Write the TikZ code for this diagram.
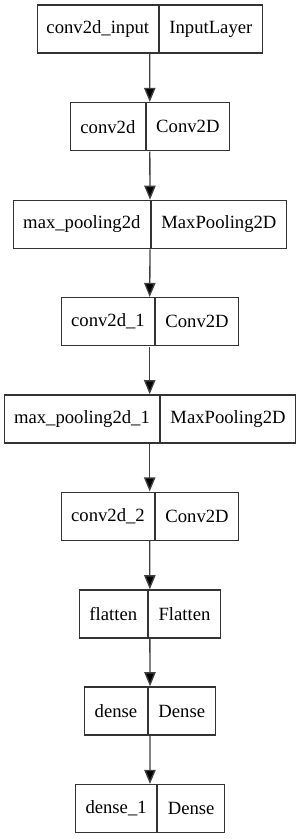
\documentclass[tikz,border=0pt]{standalone}
\usepackage{fontspec}
\setmainfont{Liberation Serif}
\usetikzlibrary{arrows.meta, positioning, fit}

\begin{document}
\begin{tikzpicture}[
		x=0.75pt, y=-0.75pt,
		field/.style={rectangle, draw=black!80, line width=0.8pt, minimum height=36pt, inner sep=0pt, font=\rmfamily\fontsize{14pt}{16pt}\selectfont},
		layer/.style={rectangle, inner sep=0pt},
		line/.style={draw=black!75, line width=1pt, -{Triangle[length=10.5pt, width=8.5pt, fill=black]}}
	]
	\useasboundingbox (0,0) rectangle (300,839);

	% Input layer
	\node [field, minimum width=91pt, anchor=east] (inname) at (159,29) {conv2d\_input};
	\node [field, minimum width=77pt, right=0pt of inname] (intype) {InputLayer};
	\node [layer, fit=(inname)(intype)] (input) {};

	% First convolution
	\node [field, minimum width=56.3pt, anchor=east] (convaname) at (146,126.7) {conv2d};
	\node [field, minimum width=62pt, right=0pt of convaname] (convatype) {Conv2D};
	\node [layer, fit=(convaname)(convatype)] (conva) {};

	% First pooling
	\node [field, minimum width=102.5pt, anchor=east] (poolaname) at (150.7,224.5) {max\_pooling2d};
	\node [field, minimum width=101.5pt, right=0pt of poolaname] (poolatype) {MaxPooling2D};
	\node [layer, fit=(poolaname)(poolatype)] (poola) {};

	% Second convolution
	\node [field, minimum width=70.2pt, anchor=east] (convbname) at (155.3,321.7) {conv2d\_1};
	\node [field, minimum width=61.8pt, right=0pt of convbname] (convbtype) {Conv2D};
	\node [layer, fit=(convbname)(convbtype)] (convb) {};

	% Second pooling
	\node [field, minimum width=116.7pt, anchor=east] (poolbname) at (160.3,419) {max\_pooling2d\_1};
	\node [field, minimum width=100.8pt, right=0pt of poolbname] (poolbtype) {MaxPooling2D};
	\node [layer, fit=(poolbname)(poolbtype)] (poolb) {};

	% Third convolution
	\node [field, minimum width=70.2pt, anchor=east] (convcname) at (155.3,516.2) {conv2d\_2};
	\node [field, minimum width=61.8pt, right=0pt of convcname] (convctype) {Conv2D};
	\node [layer, fit=(convcname)(convctype)] (convc) {};

	% Flatten
	\node [field, minimum width=51.2pt, anchor=east] (flatname) at (148,614) {flatten};
	\node [field, minimum width=54pt, right=0pt of flatname] (flattype) {Flatten};
	\node [layer, fit=(flatname)(flattype)] (flat) {};

	% Dense layers
	\node [field, minimum width=46.8pt, anchor=east] (denseaname) at (147.7,711) {dense};
	\node [field, minimum width=50.3pt, right=0pt of denseaname] (denseatype) {Dense};
	\node [layer, fit=(denseaname)(denseatype)] (densea) {};

	\node [field, minimum width=61pt, anchor=east] (densebname) at (157.3,808.7) {dense\_1};
	\node [field, minimum width=50pt, right=0pt of densebname] (densebtype) {Dense};
	\node [layer, fit=(densebname)(densebtype)] (denseb) {};

	% Edges
	\path [line] (input.south) -- (conva.north);
	\path [line] (conva.south) -- (poola.north);
	\path [line] (poola.south) -- (convb.north);
	\path [line] (convb.south) -- (poolb.north);
	\path [line] (poolb.south) -- (convc.north);
	\path [line] (convc.south) -- (flat.north);
	\path [line] (flat.south) -- (densea.north);
	\path [line] (densea.south) -- (denseb.north);

\end{tikzpicture}
\end{document}
